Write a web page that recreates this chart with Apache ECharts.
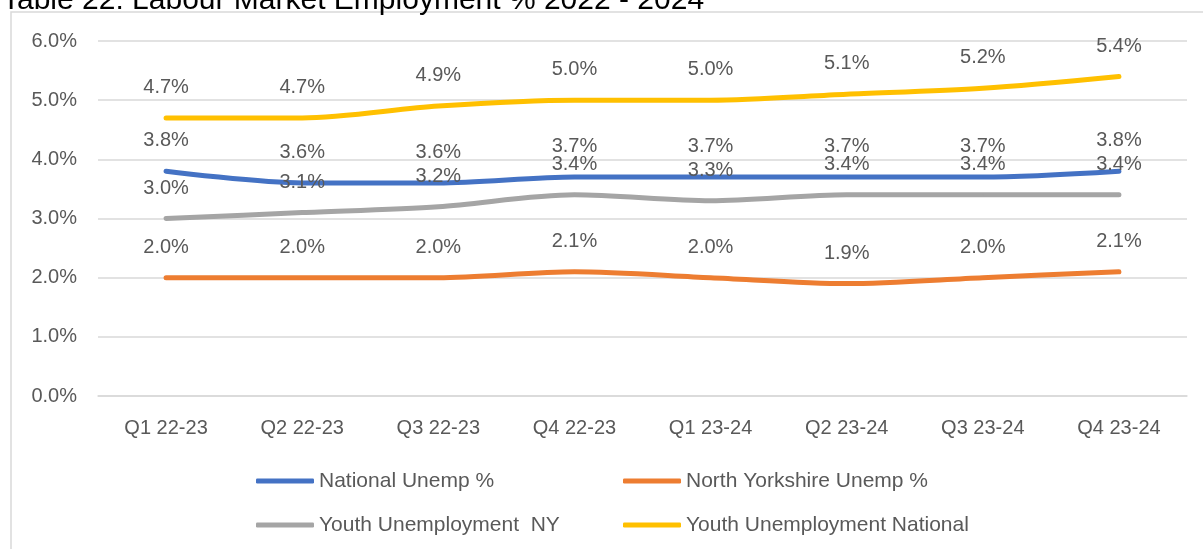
<!DOCTYPE html>
<html>
<head>
<meta charset="utf-8">
<script src="https://cdn.jsdelivr.net/npm/echarts@6/dist/echarts.min.js"></script>
<style>
html,body{margin:0;padding:0;background:#fff;}
#c{width:1203px;height:549px;}
</style>
</head>
<body>
<div id="c"></div>
<script>
const categories = ['Q1 22-23','Q2 22-23','Q3 22-23','Q4 22-23','Q1 23-24','Q2 23-24','Q3 23-24','Q4 23-24'];
const nationalUnemp = [3.8, 3.6, 3.6, 3.7, 3.7, 3.7, 3.7, 3.8];
const northYorkshireUnemp = [2.0, 2.0, 2.0, 2.1, 2.0, 1.9, 2.0, 2.1];
const youthNY = [3.0, 3.1, 3.2, 3.4, 3.3, 3.4, 3.4, 3.4];
const youthNational = [4.7, 4.7, 4.9, 5.0, 5.0, 5.1, 5.2, 5.4];
const seriesNames = ['National Unemp %','North Yorkshire Unemp %','Youth Unemployment  NY','Youth Unemployment National'];
const titleText = 'Table 22: Labour Market Employment % 2022 - 2024';

const FONT = "'Liberation Sans', Arial, sans-serif";
const TXT = '#595959';
const colors = ['#4472C4','#ED7D31','#A5A5A5','#FFC000'];
const dataSets = [nationalUnemp, northYorkshireUnemp, youthNY, youthNational];

const chart = echarts.init(document.getElementById('c'), null, {renderer:'canvas'});
chart.setOption({
  animation:false,
  color: colors,
  textStyle:{fontFamily:FONT},
  graphic:[
    {type:'rect', shape:{x:11, y:12, width:1300, height:700}, style:{fill:'none', stroke:'#D9D9D9', lineWidth:1.5}, z:0},
    {type:'text', left:2, top:-14, style:{text:titleText, font:"30px 'Liberation Sans', Arial, sans-serif", fill:'#000'}, z:10}
  ],
  grid:{left:98, right:16, top:41, bottom:153},
  xAxis:{
    type:'category', data:categories, boundaryGap:true,
    axisLine:{lineStyle:{color:'#D9D9D9', width:1.5}},
    axisTick:{show:false},
    axisLabel:{color:TXT, fontSize:20, margin:22, fontFamily:FONT}
  },
  yAxis:{
    type:'value', min:0, max:6, interval:1,
    axisLine:{show:false}, axisTick:{show:false},
    splitLine:{lineStyle:{color:'#D9D9D9', width:1.5}},
    axisLabel:{color:TXT, fontSize:20, margin:21, fontFamily:FONT, formatter:v=>v.toFixed(1)+'%'}
  },
  legend:[
    {orient:'vertical', left:251, top:465, itemWidth:58, itemHeight:5, itemGap:22, icon:'roundRect',
     data:[seriesNames[0], seriesNames[2]],
     textStyle:{color:TXT, fontSize:21, lineHeight:22, fontFamily:FONT}},
    {orient:'vertical', left:618, top:465, itemWidth:58, itemHeight:5, itemGap:22, icon:'roundRect',
     data:[seriesNames[1], seriesNames[3]],
     textStyle:{color:TXT, fontSize:21, lineHeight:22, fontFamily:FONT}}
  ],
  series: dataSets.map((d,i)=>({
    name:seriesNames[i], type:'line', data:d, smooth:0.3,
    symbol:'circle', symbolSize:1, showSymbol:true,
    lineStyle:{width:5, color:colors[i], cap:'round'},
    itemStyle:{color:colors[i]},
    label:{show:true, position:'top', distance:20, color:TXT, fontSize:20, fontFamily:FONT, formatter:p=>p.value.toFixed(1)+'%'},
    z:2+i
  }))
});
</script>
</body>
</html>
